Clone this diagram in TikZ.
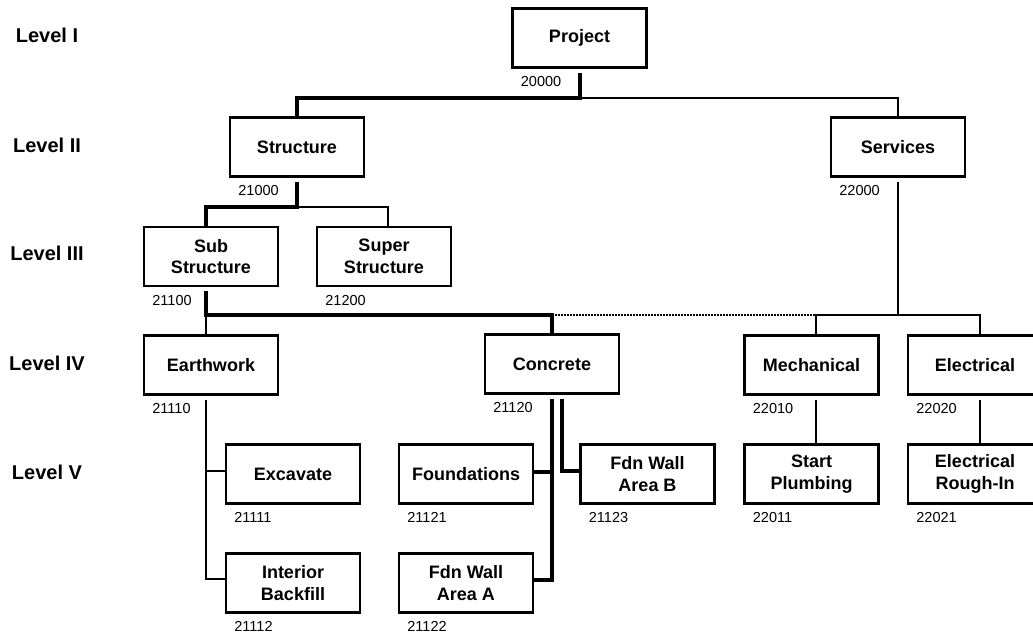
\documentclass[tikz,border=0pt]{standalone}
\usepackage{fontspec}
\setmainfont{Liberation Sans}
\usetikzlibrary{calc}
\begin{document}
\begin{tikzpicture}[x=1pt,y=-1pt,
  box/.style={draw,line width=2.6pt,minimum width=134pt,minimum height=59pt,
    inner sep=0pt,align=center,font=\bfseries\fontsize{18}{21.5}\selectfont},
  code/.style={anchor=north west,inner sep=0pt,font=\fontsize{14.5}{16}\selectfont},
  lvl/.style={inner sep=0pt,font=\bfseries\fontsize{20}{24}\selectfont},
  link/.style={line width=1.8pt},
  heavy/.style={line width=4pt},
  dots/.style={line width=2pt,dash pattern=on 1.5pt off 1.5pt}
]
\useasboundingbox (0,0) rectangle (1033,634);

% level captions
\node[lvl] (l1) at (47,35.5) {Level I};
\node[lvl] (l2) at (47,145) {Level II};
\node[lvl] (l3) at (47,253) {Level III};
\node[lvl] (l4) at (47,363) {Level IV};
\node[lvl] (l5) at (47,472) {Level V};

% work breakdown boxes
\node[box] (proj)   at (579.5,38)  {Project};
\node[box] (struct) at (297,147)   {Structure};
\node[box] (serv)   at (898,147)   {Services};
\node[box] (sub)    at (211,256.5) {Sub\\Structure};
\node[box] (super)  at (384,256.5) {Super\\Structure};
\node[box] (earth)  at (211,365)   {Earthwork};
\node[box] (conc)   at (552,364)   {Concrete};
\node[box] (mech)   at (811.5,365) {Mechanical};
\node[box] (elec)   at (975,365)   {Electrical};
\node[box] (excav)  at (293,474)   {Excavate};
\node[box] (backf)  at (293,583)   {Interior\\Backfill};
\node[box] (found)  at (466,474)   {Foundations};
\node[box] (wallB)  at (647.5,474) {Fdn Wall\\Area B};
\node[box] (wallA)  at (466,583)   {Fdn Wall\\Area A};
\node[box] (plumb)  at (811.5,474) {Start\\Plumbing};
\node[box] (rough)  at (975,474)   {Electrical\\Rough-In};

% account codes
\foreach \n/\c in {proj/20000,struct/21000,serv/22000,sub/21100,super/21200,
  earth/21110,conc/21120,mech/22010,elec/22020,excav/21111,backf/21112,
  found/21121,wallB/21123,wallA/21122,plumb/22011,rough/22021}
  \node[code] (c-\n) at ([xshift=9.5pt,yshift=-7.5pt]\n.south west) {\c};

% junctions
\coordinate (jA) at (579.5,98);
\coordinate (jB) at (297,207);
\coordinate (jC) at (206,315);
\coordinate (jD) at (552,315);
\coordinate (jE) at (898,315);
\coordinate (jM) at (816,315);

% level I -> II
\draw[link]  (jA) -| (serv.north);
\draw[heavy] ([yshift=-4pt]proj.south) -- (jA) -| (struct.north);

% level II -> III
\draw[link]  (jB) -| ([xshift=4pt]super.north);
\draw[heavy] ([yshift=-4pt]struct.south) -- (jB) -| ([xshift=-5pt]sub.north);

% level III -> IV
\draw[link]  (jC) -- ([xshift=-5pt]earth.north);
\draw[dots]  (jD) -- (jM);
\draw[heavy] ([xshift=-5pt,yshift=-4pt]sub.south) -- (jC) -| (conc.north);
\draw[link]  ([yshift=-4pt]serv.south) -- (jE);
\draw[link]  ([xshift=4.5pt]mech.north) |- (jE) -| ([xshift=5pt]elec.north);

% level IV -> V
\draw[link]  ([xshift=-5pt,yshift=-4pt]earth.south) |- ([yshift=4pt]backf.west);
\draw[link]  ([yshift=3pt]excav.west) -| ([xshift=-5pt,yshift=-4pt]earth.south);
\draw[heavy] ([yshift=-4pt]conc.south) |- ([yshift=3pt]wallA.east);
\draw[heavy] ([yshift=2pt]found.east) -| ([yshift=-4pt]conc.south);
\draw[heavy] ([xshift=10pt,yshift=-4pt]conc.south) |- ([yshift=3pt]wallB.west);
\draw[link]  ([xshift=4.5pt,yshift=-4pt]mech.south) -- ([xshift=4.5pt]plumb.north);
\draw[link]  ([xshift=5pt,yshift=-4pt]elec.south) -- ([xshift=5pt]rough.north);
\end{tikzpicture}
\end{document}
